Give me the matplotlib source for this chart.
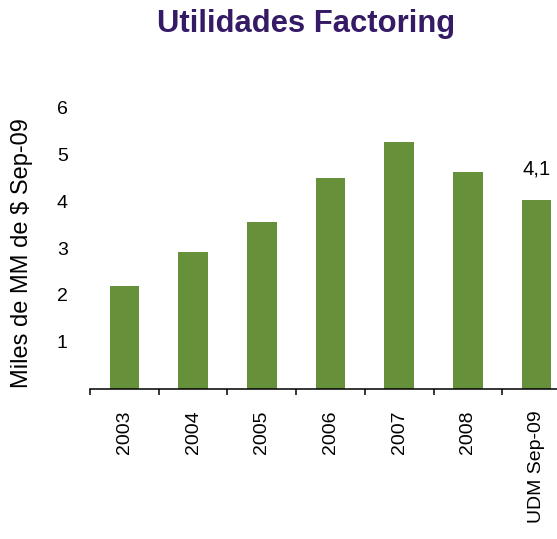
import matplotlib.pyplot as plt

plt.rcParams['font.family'] = ['Liberation Sans', 'DejaVu Sans']

categories = ['2003', '2004', '2005', '2006', '2007', '2008', 'UDM Sep-09']
utilidades = [2.19, 2.92, 3.56, 4.50, 5.27, 4.63, 4.03]
yticks = [1, 2, 3, 4, 5, 6]
last_label = '4,1'

bar_color = '#66913A'
title_color = '#351a66'

fig = plt.figure(figsize=(5.57, 5.39), dpi=100)
ax = fig.add_axes([90 / 557, 150.5 / 539, 481 / 557, 304.2 / 539])

x = range(len(categories))
ax.bar(x, utilidades, width=0.43, color=bar_color, zorder=2)

ax.set_xlim(-0.5, len(categories) - 0.5)
ax.set_ylim(0, 6.5)

# category boundaries get the tick marks, labels sit in the middle
ax.set_xticks(list(x))
ax.set_xticklabels(categories, rotation=90, fontsize=14)
ax.set_xticks([i - 0.5 for i in range(len(categories) + 1)], minor=True)
ax.tick_params(axis='x', which='major', length=0, pad=15.5)
ax.tick_params(axis='x', which='minor', length=4.5, width=1.1, color='black')

ax.set_yticks(yticks)
ax.set_yticklabels([str(v) for v in yticks], fontsize=14)
ax.tick_params(axis='y', length=0, pad=16)

for s in ['top', 'right', 'left']:
    ax.spines[s].set_visible(False)
ax.spines['bottom'].set_linewidth(1.1)

ax.annotate(last_label, (len(categories) - 1, utilidades[-1]),
            xytext=(0, 15.5), textcoords='offset points',
            ha='center', va='bottom', fontsize=14.6)

fig.text(22 / 557, (539 - 253) / 539, 'Miles de MM de $ Sep-09',
         rotation=90, ha='center', va='center', fontsize=17)

fig.text(306 / 557, 1 - 24 / 539, 'Utilidades Factoring', color=title_color,
         fontsize=22.3, fontweight='bold', ha='center', va='center')

fig.savefig('out.png', dpi=100)
